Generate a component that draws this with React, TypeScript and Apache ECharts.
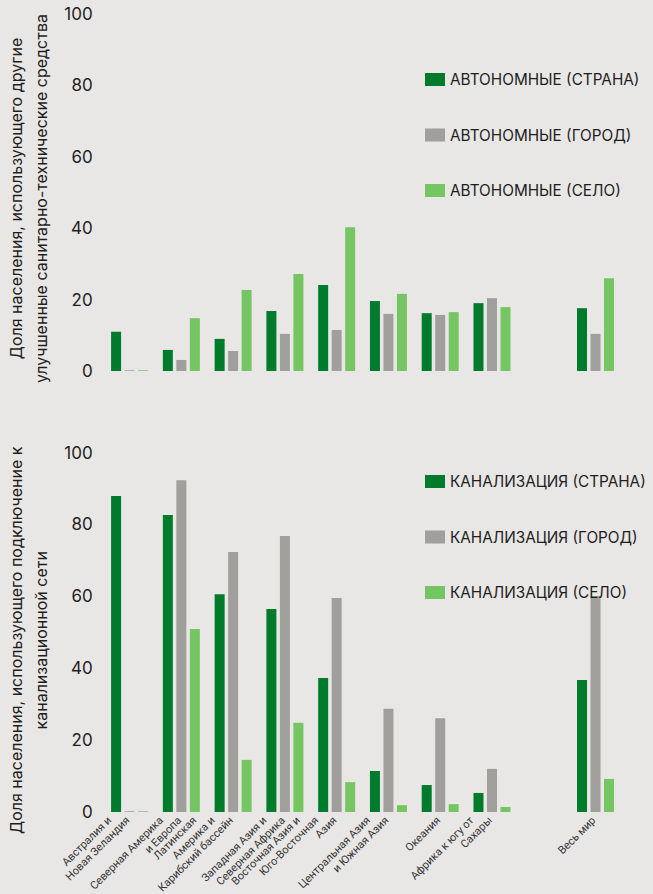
import React, { useEffect, useRef } from "react";
import * as echarts from "echarts";

const categories = [
  "Австралия и\nНовая Зеландия",
  "Северная Америка\nи Европа",
  "Латинская\nАмерика и\nКарибский бассейн",
  "Западная Азия и\nСеверная Африка",
  "Восточная Азия и\nЮго-Восточная\nАзия",
  "Центральная Азия\nи Южная Азия",
  "Океания",
  "Африка к югу от\nСахары",
  "",
  "Весь мир",
];

const yTicks = [0, 20, 40, 60, 80, 100];

const autonomousNames = ["АВТОНОМНЫЕ (СТРАНА)", "АВТОНОМНЫЕ (ГОРОД)", "АВТОНОМНЫЕ (СЕЛО)"];
const sewerNames = ["КАНАЛИЗАЦИЯ (СТРАНА)", "КАНАЛИЗАЦИЯ (ГОРОД)", "КАНАЛИЗАЦИЯ (СЕЛО)"];

const autonomousCountry = [11.0, 5.9, 9.0, 16.8, 24.1, 19.6, 16.2, 19.0, null, 17.6];
const autonomousUrban = [0.2, 3.1, 5.6, 10.4, 11.5, 16.0, 15.7, 20.4, null, 10.4];
const autonomousRural = [0.2, 14.8, 22.7, 27.2, 40.3, 21.6, 16.5, 17.9, null, 26.0];

const sewerCountry = [87.9, 82.6, 60.6, 56.5, 37.3, 11.4, 7.5, 5.3, null, 36.7];
const sewerUrban = [0.2, 92.3, 72.3, 76.8, 59.5, 28.7, 26.1, 12.0, null, 60.1];
const sewerRural = [0.2, 50.9, 14.5, 24.8, 8.3, 1.9, 2.2, 1.4, null, 9.2];

const topTitle = "Доля населения, использующего другие\nулучшенные санитарно-технические средства";
const bottomTitle = "Доля населения, использующего подключение к\nканализационной сети";

const DARK = "#007b2b";
const GRAY = "#a09f9b";
const LIGHT = "#75c662";
const BG = "#e8e7e5";
const TEXT = "#1e1e1e";
const FONT = "Inter, Roboto, sans-serif";
const LABEL_FONT = "Roboto, 'Noto Sans', sans-serif";

const LABEL_LH = 13;

export default function App() {
  const ref = useRef<HTMLDivElement>(null);

  useEffect(() => {
    if (!ref.current) return;
    const chart = echarts.init(ref.current, undefined, { renderer: "svg" });

    const gridLeft = 103.7;
    const gridWidth = 517.7;

    const richBase = { fontFamily: LABEL_FONT, fontSize: 11, color: "#333", lineHeight: LABEL_LH };
    const rich = {
      p0: { ...richBase },
      p1: { ...richBase, padding: [0, LABEL_LH, 0, 0] },
      p2: { ...richBase, padding: [0, LABEL_LH * 2, 0, 0] },
    };

    const yAxisCommon = (name: string, padRight: number) => ({
      type: "value",
      min: 0,
      max: 100,
      interval: 20,
      splitLine: { show: false },
      axisLine: { show: false },
      axisTick: { show: false },
      axisLabel: {
        color: TEXT,
        fontFamily: FONT,
        fontSize: 17,
        margin: 11,
        customValues: yTicks,
      },
      name,
      nameLocation: "middle",
      nameRotate: 90,
      nameGap: 49,
      nameTextStyle: {
        color: TEXT,
        fontFamily: FONT,
        fontSize: 16,
        lineHeight: 25,
        padding: [0, padRight, 0, 0],
      },
    });

    const bar = (name: string, data: (number | null)[], color: string, idx: number) => ({
      name,
      type: "bar",
      xAxisIndex: idx,
      yAxisIndex: idx,
      data,
      barWidth: 10,
      barGap: "35%",
      itemStyle: { color },
    });

    const legend = (names: string[], top: number) => ({
      data: names,
      orient: "vertical",
      left: 420,
      top,
      itemWidth: 20,
      itemHeight: 13,
      itemGap: 40.5,
      icon: "rect",
      selectedMode: false,
      textStyle: {
        color: TEXT,
        fontFamily: FONT,
        fontSize: 15.3,
        lineHeight: 13,
      },
    });

    chart.setOption({
      animation: false,
      backgroundColor: BG,
      legend: [legend(autonomousNames, 67), legend(sewerNames, 469)],
      grid: [
        { left: gridLeft, width: gridWidth, top: 14, height: 357, outerBoundsMode: "none", containLabel: false },
        { left: gridLeft, width: gridWidth, top: 452.5, height: 359.5, outerBoundsMode: "none", containLabel: false },
      ],
      xAxis: [
        {
          type: "category",
          gridIndex: 0,
          data: categories,
          axisLine: { show: false },
          axisTick: { show: false },
          axisLabel: { show: false },
        },
        {
          type: "category",
          gridIndex: 1,
          data: categories,
          axisLine: { show: false },
          axisTick: { show: false },
          axisLabel: {
            interval: 0,
            rotate: 45,
            margin: 14,
            align: "right",
            verticalAlign: "bottom",
            padding: [0, -4, 0, 0],
            hideOverlap: false,
            formatter: (value: string) => {
              if (!value) return "";
              const lines = value.split("\n");
              const n = lines.length;
              return lines.map((l, k) => `{p${n - 1 - k}|${l}}`).join("\n");
            },
            rich,
          },
        },
      ],
      yAxis: [
        { ...yAxisCommon(topTitle, 12), gridIndex: 0 },
        { ...yAxisCommon(bottomTitle, 16), gridIndex: 1 },
      ],
      series: [
        bar(autonomousNames[0], autonomousCountry, DARK, 0),
        bar(autonomousNames[1], autonomousUrban, GRAY, 0),
        bar(autonomousNames[2], autonomousRural, LIGHT, 0),
        bar(sewerNames[0], sewerCountry, DARK, 1),
        bar(sewerNames[1], sewerUrban, GRAY, 1),
        bar(sewerNames[2], sewerRural, LIGHT, 1),
      ],
    });

    return () => chart.dispose();
  }, []);

  return (
    <div
      ref={ref}
      style={{ position: "fixed", left: 0, top: 0, width: 653, height: 894 }}
    />
  );
}
